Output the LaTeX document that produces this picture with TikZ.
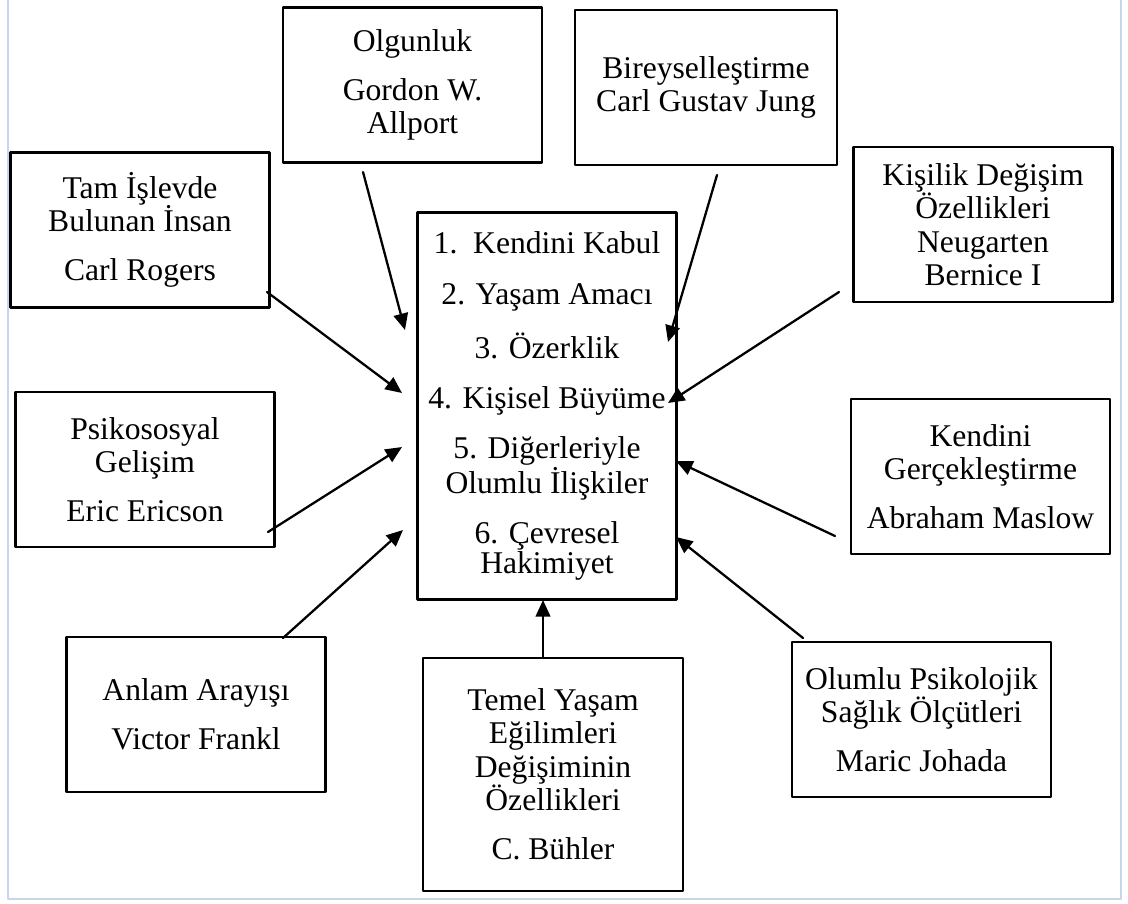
\documentclass[tikz,border=0pt]{standalone}
\usepackage{fontspec}
\setmainfont{Liberation Serif}
\usepackage{tikz}
\usetikzlibrary{arrows.meta}
\definecolor{frameblue}{RGB}{200,214,236}

\begin{document}
\begin{tikzpicture}[x=0.02cm,y=-0.02cm,line cap=round,line join=round,
box/.style={draw,line width=1.4pt,align=center,inner sep=0pt,minimum width=5.18cm,minimum height=3.1cm,font=\fontsize{18}{19}\selectfont},
link/.style={-{Triangle[length=3.3mm,width=2.9mm]},line width=1.3pt}]
\useasboundingbox (0,0) rectangle (1128,903);
\draw[frameblue,line width=1.1pt] (8,0)--(8,899)--(1121,899)--(1121,0);
% outer boxes
\node[box] (olg) at (412.5,85) {Olgunluk\\[9pt]Gordon W.\\Allport};
\node[box,minimum width=5.24cm] (bir) at (706,87.5) {Bireyselleştirme\\Carl Gustav Jung};
\node[box] (tam) at (140,230) {Tam İşlevde\\Bulunan İnsan\\[9pt]Carl Rogers};
\node[box] (kis) at (983,224.5) {Kişilik Değişim\\Özellikleri\\Neugarten\\Bernice I};
\node[box] (psi) at (145,469.5) {Psikososyal\\Gelişim\\[9pt]Eric Ericson};
\node[box] (ken) at (980.5,476.5) {Kendini\\Gerçekleştirme\\[9pt]Abraham Maslow};
\node[box] (anl) at (196,714.5) {Anlam Arayışı\\[9pt]Victor Frankl};
\node[box] (olu) at (921.5,719.5) {Olumlu Psikolojik\\Sağlık Ölçütleri\\[9pt]Maric Johada};
\node[box,minimum width=5.2cm,minimum height=4.66cm] (buh) at (553,774.5) {Temel Yaşam\\Eğilimleri\\Değişiminin\\Özellikleri\\[9pt]C. Bühler};
% centre
\node[box,minimum height=7.74cm,font=\fontsize{18}{17}\selectfont] (cen) at (547,406) {1.\ \ Kendini Kabul\\[11.5pt]2. Yaşam Amacı\\[11.5pt]3. Özerklik\\[11.5pt]4. Kişisel Büyüme\\[11.5pt]5. Diğerleriyle\\Olumlu İlişkiler\\[11.5pt]6. Çevresel\\Hakimiyet};
% arrow ends
\coordinate (o1) at (363,172);\coordinate (i1) at (405,330);
\coordinate (o2) at (717,175);\coordinate (i2) at (668,342);
\coordinate (o3) at (267,292);\coordinate (i3) at (402,393);
\coordinate (o4) at (839,292);\coordinate (i4) at (668,403);
\coordinate (o5) at (268,532);\coordinate (i5) at (402,447);
\coordinate (o6) at (835,536);\coordinate (i6) at (676,461);
\coordinate (o7) at (803,638);\coordinate (i7) at (676,537);
\coordinate (o8) at (283,638);\coordinate (i8) at (403,530);
\coordinate (o9) at (543,658);\coordinate (i9) at (543,600);
\foreach \a/\b in {o1/i1,o2/i2,o3/i3,o4/i4,o5/i5,o6/i6,o7/i7,o8/i8,o9/i9}{\draw[link] (\a)--(\b);}
\end{tikzpicture}
\end{document}
